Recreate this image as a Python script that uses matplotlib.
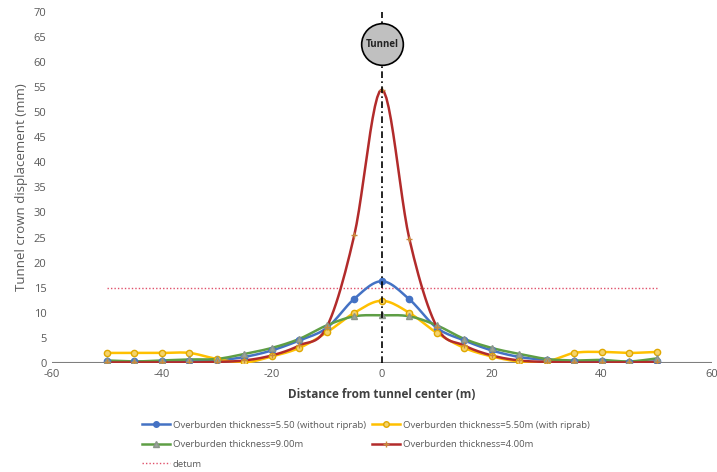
import numpy as np
import matplotlib.pyplot as plt

plt.rcParams['font.family'] = ['Open Sans', 'DejaVu Sans']
plt.rcParams['axes.unicode_minus'] = False

dist = [-50, -45, -40, -35, -30, -25, -20, -15, -10, -5, 0,
        5, 10, 15, 20, 25, 30, 35, 40, 45, 50]

without_riprab = [0.3, 0.3, 0.3, 0.3, 0.5, 1.2, 2.5, 4.5, 7.0, 12.8, 16.3,
                  12.7, 7.0, 4.5, 2.5, 1.2, 0.6, 0.3, 0.3, 0.2, 0.3]
with_riprab = [2.0, 2.0, 2.0, 2.0, 0.8, 0.1, 1.3, 3.0, 6.1, 10.0, 12.4,
               10.0, 6.0, 3.0, 1.3, 0.3, 0.3, 2.0, 2.2, 2.0, 2.2]
thick_9 = [0.5, 0.3, 0.5, 0.7, 0.8, 1.8, 3.0, 4.8, 7.5, 9.3, 9.5,
           9.3, 7.5, 4.8, 3.0, 1.8, 0.8, 0.5, 0.6, 0.3, 0.9]
thick_4 = [0.1, 0.1, 0.1, 0.1, 0.2, 0.5, 1.5, 3.5, 7.2, 25.5, 54.5,
           24.8, 7.2, 3.5, 1.5, 0.5, 0.2, 0.1, 0.1, 0.1, 0.2]

datum_x = [-50, 50]
datum_y = [15, 15]
tunnel_y = 63.5

labels = ['Overburden thickness=5.50 (without riprab)',
          'Overburden thickness=5.50m (with riprab)',
          'Overburden thickness=9.00m',
          'Overburden thickness=4.00m',
          'detum']


def smooth(x, y, n=12):
    # Catmull-Rom drawing of the line through the points (like Excel's smoothed line)
    x = np.asarray(x, float)
    y = np.asarray(y, float)
    px = np.concatenate([[2 * x[0] - x[1]], x, [2 * x[-1] - x[-2]]])
    py = np.concatenate([[2 * y[0] - y[1]], y, [2 * y[-1] - y[-2]]])
    xs, ys = [], []
    t = np.linspace(0, 1, n, endpoint=False)
    for i in range(1, len(px) - 2):
        for arr, out in ((px, xs), (py, ys)):
            p0, p1, p2, p3 = arr[i - 1:i + 3]
            out.extend(0.5 * (2 * p1 + (-p0 + p2) * t
                              + (2 * p0 - 5 * p1 + 4 * p2 - p3) * t ** 2
                              + (-p0 + 3 * p1 - 3 * p2 + p3) * t ** 3))
    xs.append(x[-1])
    ys.append(y[-1])
    return np.array(xs), np.array(ys)


fig = plt.figure(figsize=(7.17, 4.72), dpi=100)
ax = fig.add_axes([0.0725, 0.231, 0.92, 0.744])

series = [
    (without_riprab, '#4472C4', 'o', '#4472C4', '#4472C4'),
    (with_riprab, '#FFC000', 'o', '#F5D36B', '#E0A800'),
    (thick_9, '#5E9E45', '^', '#9AA59A', '#8A958A'),
    (thick_4, '#B22B2B', '+', '#C98A3A', '#C98A3A'),
]
handles = []
for (vals, col, mk, mfc, mec), lab in zip(series, labels):
    sx, sy = smooth(dist, vals)
    ax.plot(sx, sy, color=col, lw=1.8, zorder=3)
    ax.plot(dist, vals, ls='none', marker=mk, ms=4.5, mfc=mfc, mec=mec,
            mew=1.0, zorder=4)
    h, = ax.plot([], [], color=col, lw=1.8, marker=mk, ms=4, mfc=mfc, mec=mec,
                 label=lab)
    handles.append(h)

d, = ax.plot(datum_x, datum_y, color='#E0506A', lw=1.0, ls=(0, (1, 1.5)),
             label=labels[4], zorder=2)
handles.append(d)

# tunnel centre line and symbol
ax.plot([0, 0], [0, 70], color='black', lw=1.2, ls=(0, (4, 2, 1, 2)), zorder=5)
ax.plot(0, tunnel_y, marker='o', ms=30, mfc='#C0C0C0', mec='black', mew=1.2,
        zorder=6)
ax.text(0, tunnel_y, 'Tunnel', ha='center', va='center', fontsize=7,
        fontweight='bold', color='#222222', zorder=7)

ax.axhline(0, color='#7F7F7F', lw=1.5, zorder=1)
ax.set_xlim(-60, 60)
ax.set_ylim(0, 70)
ax.set_xticks(np.arange(-60, 61, 20))
ax.set_yticks(np.arange(0, 71, 5))
for s in ax.spines.values():
    s.set_visible(False)
ax.tick_params(length=0, labelsize=8, labelcolor='#595959', pad=4)
ax.set_xlabel('Distance from tunnel center (m)', fontsize=8.5,
              fontweight='bold', color='#404040', labelpad=6)
ax.set_ylabel('Tunnel crown displacement (mm)', fontsize=9.5, color='#595959',
              labelpad=4)

order = [handles[0], handles[2], handles[4], handles[1], handles[3]]
fig.legend(order, [h.get_label() for h in order], ncol=2, frameon=False,
           loc='center', bbox_to_anchor=(0.51, 0.058), fontsize=6.8,
           labelcolor='#595959', handlelength=3, columnspacing=0.6,
           handletextpad=0.3, labelspacing=1.1)

fig.savefig('out.png', dpi=100)
